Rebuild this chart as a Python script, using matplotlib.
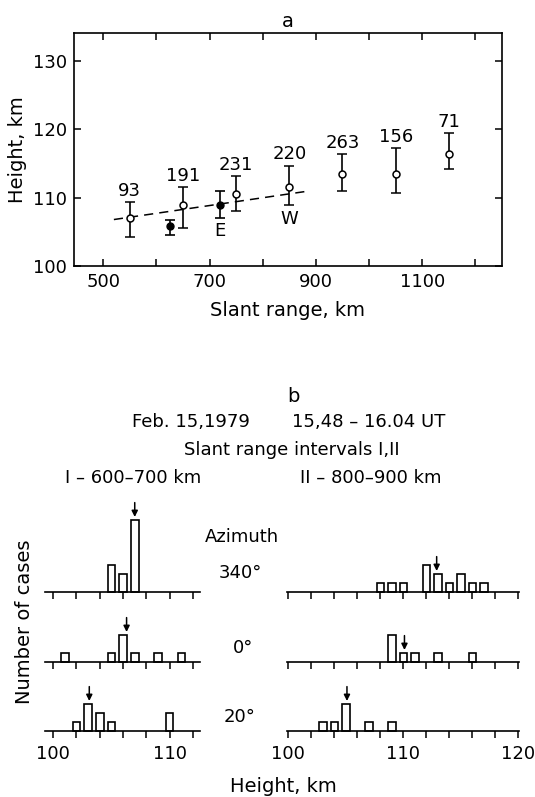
import matplotlib
matplotlib.use("Agg")
import matplotlib.pyplot as plt

# ---- panel a: mean height vs slant range ----
range_open = [550, 650, 750, 850, 950, 1050, 1150]
height_open = [107.0, 108.9, 110.6, 111.6, 113.5, 113.4, 116.4]
err_lo_open = [104.3, 105.5, 108.0, 108.9, 111.0, 110.7, 114.2]
err_hi_open = [109.4, 111.6, 113.2, 114.7, 116.4, 117.2, 119.4]
counts_open = ["93", "191", "231", "220", "263", "156", "71"]

range_filled = [625, 720]
height_filled = [105.8, 109.0]
err_lo_filled = [104.6, 107.0]
err_hi_filled = [106.8, 111.0]

trend_x = [520, 880]
trend_y = [106.8, 110.9]

# ---- panel b: histograms of heights ----
bins_L340 = [105, 106, 107]
cnt_L340 = [3, 2, 8]
bins_L0 = [101, 105, 106, 107, 109, 111]
cnt_L0 = [1, 1, 3, 1, 1, 1]
bins_L20 = [102, 103, 104, 105, 110]
cnt_L20 = [1, 3, 2, 1, 2]

bins_R340 = [108, 109, 110, 112, 113, 114, 115, 116, 117]
cnt_R340 = [1, 1, 1, 3, 2, 1, 2, 1, 1]
bins_R0 = [109, 110, 111, 113, 116]
cnt_R0 = [3, 1, 1, 1, 1]
bins_R20 = [103, 104, 105, 107, 109]
cnt_R20 = [1, 1, 3, 1, 1]

mean_L = [107.0, 106.3, 103.1]
mean_R = [112.9, 110.1, 105.1]
azimuths = ["340°", "0°", "20°"]

W, H = 535, 797
fig = plt.figure(figsize=(W / 100, H / 100), dpi=100)
plt.rcParams["font.family"] = "DejaVu Sans"


def box(x0, y0, x1, y1):
    # pixel box (top-left origin) -> figure fraction
    return [x0 / W, 1 - y1 / H, (x1 - x0) / W, (y1 - y0) / H]


def ftext(x, y, s, **kw):
    fig.text(x / W, 1 - y / H, s, **kw)


# panel a
ax = fig.add_axes(box(74, 33, 502, 266))
ax.errorbar(range_open, height_open,
            yerr=[[h - l for h, l in zip(height_open, err_lo_open)],
                  [u - h for h, u in zip(height_open, err_hi_open)]],
            fmt="o", mfc="white", mec="black", ms=5, mew=1.1,
            ecolor="black", elinewidth=1.2, capsize=3.5, capthick=1.2, zorder=3)
ax.errorbar(range_filled, height_filled,
            yerr=[[h - l for h, l in zip(height_filled, err_lo_filled)],
                  [u - h for h, u in zip(height_filled, err_hi_filled)]],
            fmt="o", mfc="black", mec="black", ms=5,
            ecolor="black", elinewidth=1.2, capsize=3.5, capthick=1.2, zorder=3)
ax.plot(trend_x, trend_y, color="black", lw=1.1, dashes=(6, 4), zorder=2)
for x, top, lab in zip(range_open, err_hi_open, counts_open):
    ax.annotate(lab, (x, top), xytext=(0, 1.5), textcoords="offset points",
                ha="center", va="bottom", fontsize=13)
ax.text(720, 105.1, "E", ha="center", va="center", fontsize=13)
ax.text(850, 106.9, "W", ha="center", va="center", fontsize=13)

ax.set_xlim(445, 1250)
ax.set_ylim(100, 134.1)
ax.set_xticks([500, 700, 900, 1100])
ax.set_xticks([600, 800, 1000, 1200], minor=True)
ax.set_yticks([100, 110, 120, 130])
ax.tick_params(which="both", direction="in", top=True, right=True,
               length=5, width=1.1, labelsize=13, pad=5)
for s in ax.spines.values():
    s.set_linewidth(1.2)
ax.set_xlabel("Slant range, km", fontsize=14, labelpad=7)
ax.set_ylabel("Height, km", fontsize=14, labelpad=4)
ax.set_title("a", fontsize=14, pad=4)

# panel b
ftext(293, 397, "b", ha="center", va="center", fontsize=14)
ftext(132, 422, "Feb. 15,1979", ha="left", va="center", fontsize=13)
ftext(292, 422, "15,48 – 16.04 UT", ha="left", va="center", fontsize=13)
ftext(292, 450, "Slant range intervals I,II", ha="center", va="center", fontsize=13)
ftext(65, 478, "I – 600–700 km", ha="left", va="center", fontsize=13)
ftext(300, 478, "II – 800–900 km", ha="left", va="center", fontsize=13)
ftext(242, 537, "Azimuth", ha="center", va="center", fontsize=13)
ftext(25, 622, "Number of cases", ha="center", va="center", rotation=90, fontsize=14)
ftext(283, 787, "Height, km", ha="center", va="center", fontsize=14)

baselines = [591.7, 661.7, 730.7]
px_per_case = 9.0
row_h = 90

left_rows = [(bins_L340, cnt_L340), (bins_L0, cnt_L0), (bins_L20, cnt_L20)]
right_rows = [(bins_R340, cnt_R340), (bins_R0, cnt_R0), (bins_R20, cnt_R20)]


def hist_row(xpix, xlim, ticks, labels, bins, cnt, mean, base, last):
    a = fig.add_axes(box(xpix[0], base - row_h, xpix[1], base))
    a.patch.set_alpha(0)
    a.bar(bins, cnt, width=0.65, color="white", edgecolor="black", lw=1.2,
          clip_on=False, zorder=2)
    near = [c for b, c in zip(bins, cnt) if abs(b - mean) <= 0.6]
    tip = (max(near) if near else 0) + 0.3
    a.annotate("", xy=(mean, tip), xytext=(mean, tip + 1.6),
               arrowprops=dict(arrowstyle="-|>", color="black", lw=1.1,
                               mutation_scale=9, shrinkA=0, shrinkB=0))
    a.set_xlim(*xlim)
    a.set_ylim(0, row_h / px_per_case)
    for k in ("top", "left", "right"):
        a.spines[k].set_visible(False)
    a.spines["bottom"].set_linewidth(1.2)
    a.set_yticks([])
    a.set_xticks(ticks)
    a.set_xticklabels([str(t) if t in labels else "" for t in ticks])
    a.tick_params(axis="x", direction="out", length=5, width=1.1,
                  labelsize=13, pad=5, labelbottom=last)


for i in range(3):
    last = i == 2
    hist_row((45, 200), (99.3, 112.6), list(range(100, 113, 2)), [100, 110],
             left_rows[i][0], left_rows[i][1], mean_L[i], baselines[i], last)
    hist_row((286.7, 519), (99.86, 120.06), list(range(100, 121, 2)), [100, 110, 120],
             right_rows[i][0], right_rows[i][1], mean_R[i], baselines[i], last)

ftext(240, 573, azimuths[0], ha="center", va="center", fontsize=13)
ftext(243, 648, azimuths[1], ha="center", va="center", fontsize=13)
ftext(240, 717, azimuths[2], ha="center", va="center", fontsize=13)

fig.savefig("out.png", dpi=100)
